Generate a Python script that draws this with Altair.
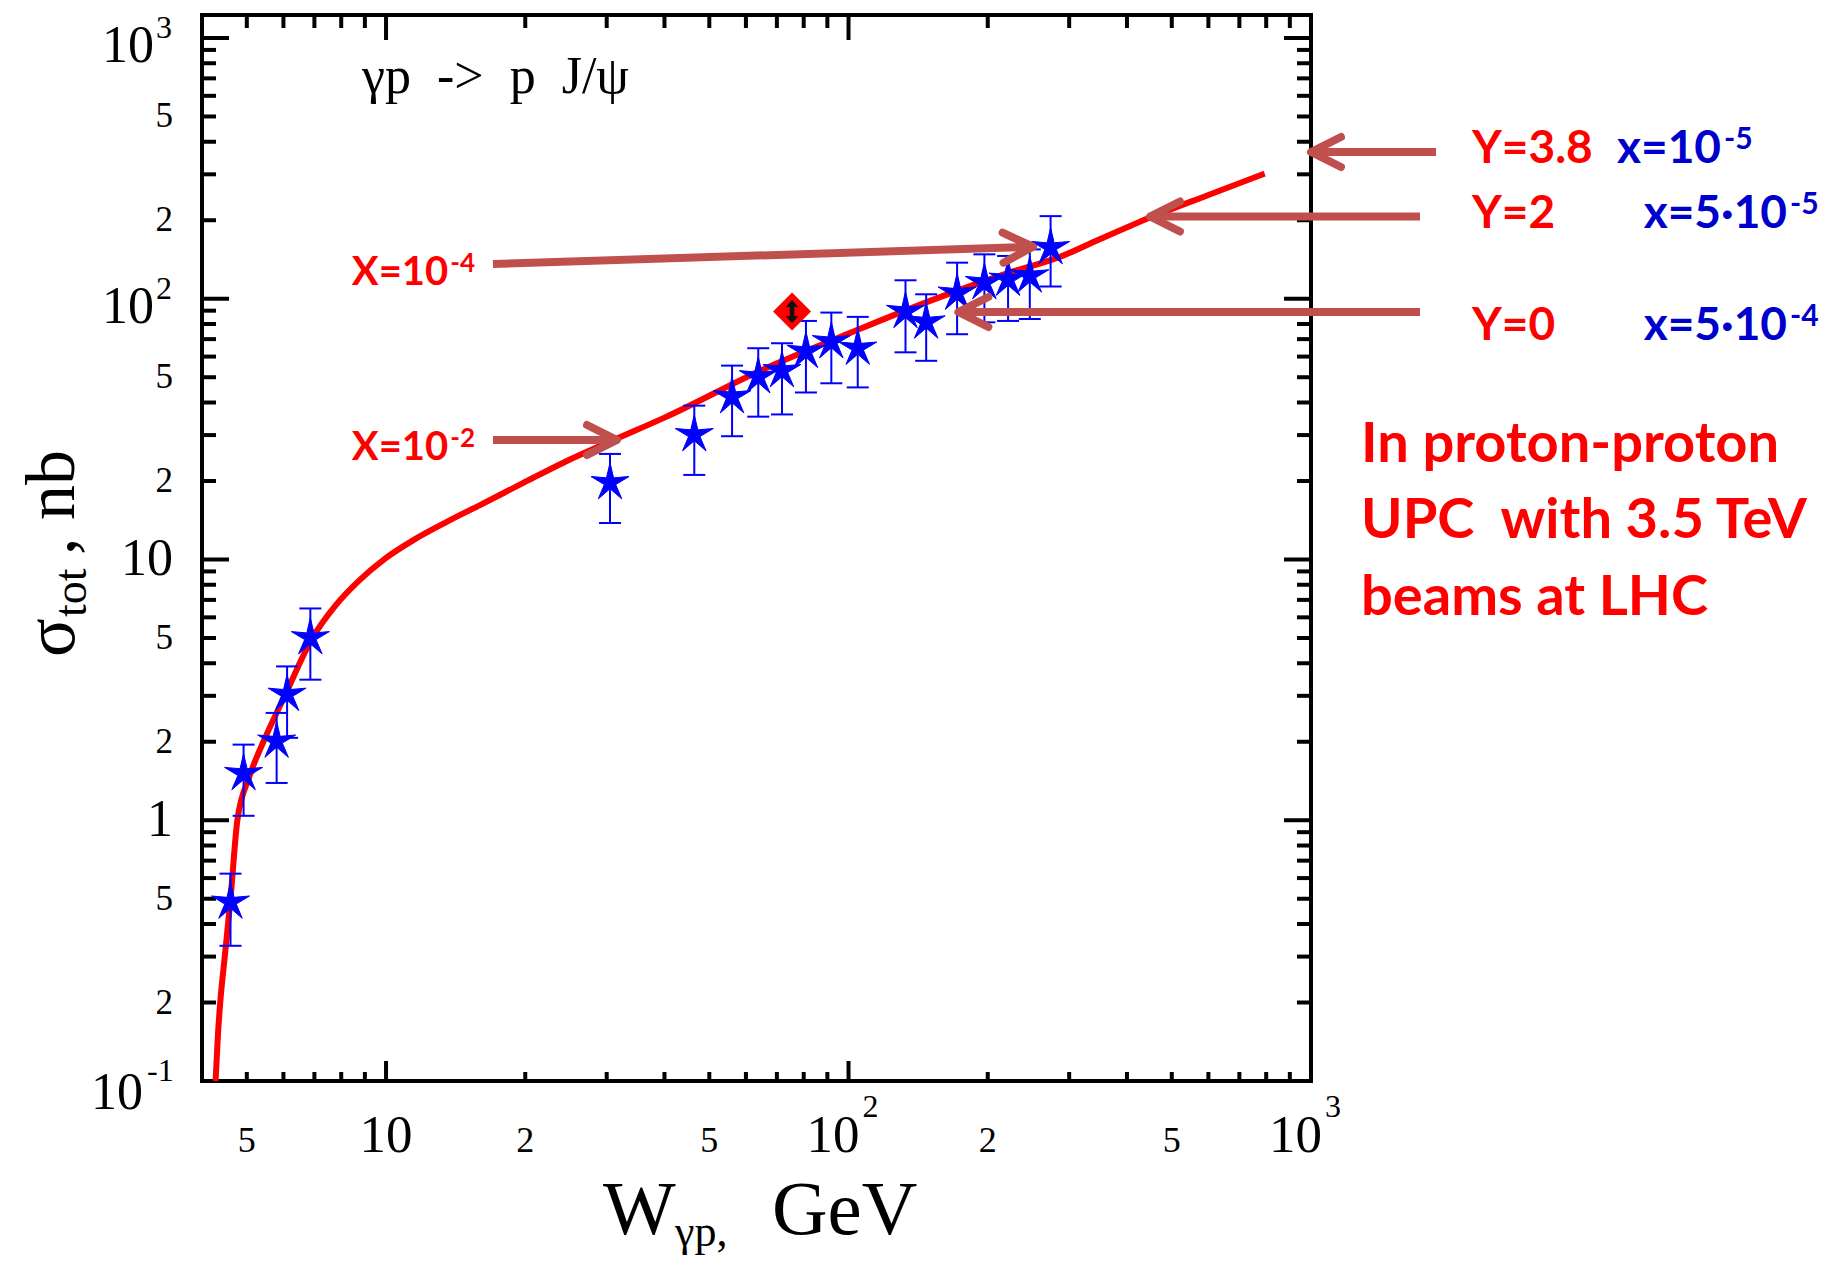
import altair as alt
import pandas as pd

# ---------------- data ----------------
# measured points (W_gamma_p in GeV, sigma in nb) with error bars
W_PTS = [4.61, 4.92, 5.80, 6.11, 6.86, 30.5, 46.4, 56.0, 63.8, 71.8, 80.9, 91.8,
         104.7, 132.8, 147.2, 171.7, 196.7, 221.3, 246.6, 273.5]
SIG_PTS = [0.485, 1.51, 2.01, 3.04, 5.01, 19.7, 30.1, 42.1, 50.2, 53.0, 62.8, 68.4,
           64.6, 89.3, 81.4, 105.0, 115.3, 118.8, 122.3, 157.0]
SIG_LO = [0.33, 1.04, 1.39, 2.07, 3.46, 13.8, 21.1, 29.7, 35.3, 36.0, 43.7, 47.4,
          45.7, 62.3, 57.8, 73.1, 81.2, 82.2, 83.6, 111.4]
SIG_HI = [0.624, 1.95, 2.58, 3.89, 6.49, 25.4, 38.9, 55.4, 64.6, 67.5, 82.2, 88.5,
          85.2, 117.7, 104.0, 137.5, 148.0, 145.9, 154.6, 207.4]

# model curve
W_CURVE = [4.28, 4.33, 4.38, 4.48, 4.61, 4.77, 5.05, 5.43, 6.04, 6.93, 7.78, 8.73,
           9.95, 11.53, 13.59, 16.0, 19.8, 24.1, 30.8, 40.0, 66.0, 100.0, 152.0,
           220.0, 290.0, 349.0, 449.0, 600.0, 794.0]
SIG_CURVE = [0.1, 0.15, 0.2, 0.3, 0.5, 1.0, 1.45, 2.0, 3.0, 5.0, 6.67, 8.28,
             10.08, 11.95, 14.0, 16.2, 19.66, 23.46, 28.55, 35.0, 54.0, 73.5, 99.0,
             125.0, 146.0, 169.0, 205.0, 250.0, 302.0]

# extra (diamond) point
W_DIAMOND = [75.5]
SIG_DIAMOND = [89.3]

# axis ticks
Y_MAJOR = [0.1, 1, 10, 100, 1000]
Y_MINOR = [0.2, 0.3, 0.4, 0.5, 0.6, 0.7, 0.8, 0.9, 2, 3, 4, 5, 6, 7, 8, 9,
           20, 30, 40, 50, 60, 70, 80, 90, 200, 300, 400, 500, 600, 700, 800, 900]
X_MAJOR = [10, 100]
X_MINOR = [5, 6, 7, 8, 9, 20, 30, 40, 50, 60, 70, 80, 90,
           200, 300, 400, 500, 600, 700, 800, 900]

# tick labels
Y_MINOR_LBL_V = [500, 200, 50, 20, 5, 2, 0.5, 0.2]
Y_MINOR_LBL_T = ["5", "2", "5", "2", "5", "2", "5", "2"]
Y_PLAIN_LBL_V = [10, 1]
Y_PLAIN_LBL_T = ["10", "1"]
Y_POW_LBL_V = [1000, 100]
Y_POW_LBL_SUP = ["3", "2"]
Y_NEG_LBL_V = [0.1]
Y_NEG_LBL_SUP = ["-1"]
X_MINOR_LBL_V = [5, 20, 50, 200, 500]
X_MINOR_LBL_T = ["5", "2", "5", "2", "5"]
X_PLAIN_LBL_V = [10]
X_PLAIN_LBL_T = ["10"]
X_POW_LBL_V = [100, 1000]
X_POW_LBL_SUP = ["2", "3"]

# annotation anchors (data units)
ARROW_TAIL_W = [17.03, 17.03, 1864, 1721, 1721]
ARROW_TAIL_S = [135.9, 28.73, 365.4, 206.8, 88.97]
ARROW_TIP_W = [250.6, 31.58, 1000, 448.6, 172.8]
ARROW_TIP_S = [158.3, 28.73, 365.4, 206.8, 88.97]
ARROW_ANGLE = [358.2, 0, 180, 180, 180]

XLBL_W = [13.7, 13.7]
XLBL_S = [112.9, 24.07]
XLBL_BASE = ["X=10", "X=10"]
XLBL_SUP = ["-4", "-2"]

YLBL_W = [2229, 2229, 2229]
YLBL_S = [331.6, 186.3, 69.45]
YLBL_T = ["Y=3.8", "Y=2", "Y=0"]

BX_W = [7741, 10751, 10751]
BX_S = [331.6, 186.3, 69.45]
BX_BASE = ["x=10", "x=5·10", "x=5·10"]
BX_SUP = ["-5", "-5", "-4"]

NOTE_W = [1283, 1283, 1283]
NOTE_S = [23.72, 12.09, 6.125]
NOTE_T = ["In proton-proton", "UPC\u00a0 with 3.5 TeV", "beams at LHC"]

REACTION_W = [8.873]
REACTION_S = [615.2]
REACTION_T = ["γp\u00a0 ->\u00a0 p\u00a0 J/ψ"]

# ---------------- styling ----------------
PW, PH = 1109, 1066
XS = alt.Scale(type="log", domain=[4, 1000], nice=False)
YS = alt.Scale(type="log", domain=[0.1, 1225], nice=False)
SERIF = "Liberation Serif"
SANS = "Lato"
RED = "#FF0000"
BLUE = "#0000FF"
DBLUE = "#0000CC"
ARROW = "#C0504D"

STAR = ("M0,-1L0.176,-0.243L0.951,-0.309L0.285,0.093L0.588,0.809L0,0.3"
        "L-0.588,0.809L-0.285,0.093L-0.951,-0.309L-0.176,-0.243Z")
CHEVRON = "M-1,-0.5L0,0L-1,0.5"
DOUBLE_ARROW = ("M0,-1L0.55,-0.4L0.2,-0.4L0.2,0.4L0.55,0.4L0,1L-0.55,0.4"
                "L-0.2,0.4L-0.2,-0.4L-0.55,-0.4Z")


def X(f):
    return alt.X(f"{f}:Q", scale=XS, axis=None)


def Y(f):
    return alt.Y(f"{f}:Q", scale=YS, axis=None)


def ticks(vals, side, length):
    m = alt.Chart(pd.DataFrame({"v": vals})).mark_rule(color="black", strokeWidth=4)
    if side == "left":
        return m.encode(y=Y("v"), x=alt.value(0), x2=alt.value(length))
    if side == "right":
        return m.encode(y=Y("v"), x=alt.value(PW - length), x2=alt.value(PW))
    if side == "bottom":
        return m.encode(x=X("v"), y=alt.value(PH - length), y2=alt.value(PH))
    return m.encode(x=X("v"), y=alt.value(0), y2=alt.value(length))


layers = []
# frame ticks
layers += [ticks(Y_MAJOR, "left", 27), ticks(Y_MINOR, "left", 14),
           ticks(Y_MAJOR, "right", 27), ticks(Y_MINOR, "right", 14),
           ticks(X_MAJOR, "top", 25), ticks(X_MINOR, "top", 13),
           ticks(X_MAJOR, "bottom", 20), ticks(X_MINOR, "bottom", 9)]

# y tick labels
ylab_minor = pd.DataFrame({"v": Y_MINOR_LBL_V, "t": Y_MINOR_LBL_T})
ylab_plain = pd.DataFrame({"v": Y_PLAIN_LBL_V, "t": Y_PLAIN_LBL_T})
ylab_pow = pd.DataFrame({"v": Y_POW_LBL_V, "t": ["10"] * len(Y_POW_LBL_V), "s": Y_POW_LBL_SUP})
ylab_neg = pd.DataFrame({"v": Y_NEG_LBL_V, "t": ["10"] * len(Y_NEG_LBL_V), "s": Y_NEG_LBL_SUP})
layers += [
    alt.Chart(ylab_minor).mark_text(font=SERIF, fontSize=35, align="right", baseline="middle")
    .encode(x=alt.value(-29), y=Y("v"), text="t:N"),
    alt.Chart(ylab_plain).mark_text(font=SERIF, fontSize=52, align="right", baseline="middle")
    .encode(x=alt.value(-29), y=Y("v"), text="t:N"),
    alt.Chart(ylab_pow).mark_text(font=SERIF, fontSize=52, align="right", baseline="middle", dy=8)
    .encode(x=alt.value(-48), y=Y("v"), text="t:N"),
    alt.Chart(ylab_pow).mark_text(font=SERIF, fontSize=32, align="left", baseline="middle", dy=-10)
    .encode(x=alt.value(-46), y=Y("v"), text="s:N"),
    alt.Chart(ylab_neg).mark_text(font=SERIF, fontSize=52, align="right", baseline="middle", dy=12)
    .encode(x=alt.value(-59), y=Y("v"), text="t:N"),
    alt.Chart(ylab_neg).mark_text(font=SERIF, fontSize=32, align="left", baseline="middle", dy=-10)
    .encode(x=alt.value(-55), y=Y("v"), text="s:N"),
]

# x tick labels
xlab_minor = pd.DataFrame({"v": X_MINOR_LBL_V, "t": X_MINOR_LBL_T})
xlab_plain = pd.DataFrame({"v": X_PLAIN_LBL_V, "t": X_PLAIN_LBL_T})
xlab_pow = pd.DataFrame({"v": X_POW_LBL_V, "t": ["10"] * len(X_POW_LBL_V), "s": X_POW_LBL_SUP})
layers += [
    alt.Chart(xlab_minor).mark_text(font=SERIF, fontSize=36, align="center", baseline="alphabetic")
    .encode(x=X("v"), y=alt.value(1137), text="t:N"),
    alt.Chart(xlab_plain).mark_text(font=SERIF, fontSize=53, align="center", baseline="alphabetic")
    .encode(x=X("v"), y=alt.value(1137), text="t:N"),
    alt.Chart(xlab_pow).mark_text(font=SERIF, fontSize=53, align="right", baseline="alphabetic", dx=11)
    .encode(x=X("v"), y=alt.value(1137), text="t:N"),
    alt.Chart(xlab_pow).mark_text(font=SERIF, fontSize=32, align="left", baseline="alphabetic", dx=14)
    .encode(x=X("v"), y=alt.value(1102), text="s:N"),
]

# axis titles
layers += [
    alt.Chart(pd.DataFrame({"t": ["W"]})).mark_text(font=SERIF, fontSize=77, align="left", baseline="alphabetic")
    .encode(x=alt.value(401), y=alt.value(1219), text="t:N"),
    alt.Chart(pd.DataFrame({"t": ["γp,"]})).mark_text(font=SERIF, fontSize=44, align="left", baseline="alphabetic")
    .encode(x=alt.value(473), y=alt.value(1231), text="t:N"),
    alt.Chart(pd.DataFrame({"t": ["GeV"]})).mark_text(font=SERIF, fontSize=77, align="left", baseline="alphabetic")
    .encode(x=alt.value(570), y=alt.value(1219), text="t:N"),
    alt.Chart(pd.DataFrame({"t": ["σ"]})).mark_text(font=SERIF, fontSize=72, align="left", baseline="alphabetic", angle=270)
    .encode(x=alt.value(-128), y=alt.value(642), text="t:N"),
    alt.Chart(pd.DataFrame({"t": ["tot"]})).mark_text(font=SERIF, fontSize=46, align="left", baseline="alphabetic", angle=270)
    .encode(x=alt.value(-116), y=alt.value(602), text="t:N"),
    alt.Chart(pd.DataFrame({"t": [", nb"]})).mark_text(font=SERIF, fontSize=70, align="left", baseline="alphabetic", angle=270)
    .encode(x=alt.value(-128), y=alt.value(540), text="t:N"),
]

# model curve
curve = pd.DataFrame({"W": W_CURVE, "S": SIG_CURVE})
layers.append(alt.Chart(curve).mark_line(color=RED, strokeWidth=6, interpolate="monotone")
              .encode(x=X("W"), y=Y("S")))

# data points
pts = pd.DataFrame({"W": W_PTS, "S": SIG_PTS, "lo": SIG_LO, "hi": SIG_HI})
caps = pd.DataFrame({"W": W_PTS + W_PTS, "S": SIG_LO + SIG_HI})
layers += [
    alt.Chart(pts).mark_rule(color=BLUE, strokeWidth=2).encode(x=X("W"), y=Y("lo"), y2=alt.Y2("hi")),
    alt.Chart(caps).mark_point(shape="stroke", size=484, strokeWidth=2, color=BLUE, opacity=1)
    .encode(x=X("W"), y=Y("S")),
    alt.Chart(pts).mark_point(shape=STAR, filled=True, color=BLUE, size=1600, opacity=1,
                              stroke=BLUE, strokeWidth=1).encode(x=X("W"), y=Y("S")),
]

# diamond point
dia = pd.DataFrame({"W": W_DIAMOND, "S": SIG_DIAMOND})
layers += [
    alt.Chart(dia).mark_point(shape="diamond", filled=True, color=RED, size=1444, opacity=1)
    .encode(x=X("W"), y=Y("S")),
    alt.Chart(dia).mark_point(shape=DOUBLE_ARROW, filled=True, color="#111111", size=529, opacity=1)
    .encode(x=X("W"), y=Y("S")),
]

# arrows
arr = pd.DataFrame({"tw": ARROW_TAIL_W, "ts": ARROW_TAIL_S, "hw": ARROW_TIP_W,
                    "hs": ARROW_TIP_S, "ang": ARROW_ANGLE})
layers += [
    alt.Chart(arr).mark_rule(color=ARROW, strokeWidth=8)
    .encode(x=X("tw"), y=Y("ts"), x2=alt.X2("hw"), y2=alt.Y2("hs")),
    alt.Chart(arr).mark_point(shape=CHEVRON, filled=False, color=ARROW, strokeWidth=8, size=3600,
                              opacity=1, strokeCap="round", strokeJoin="round")
    .encode(x=X("hw"), y=Y("hs"), angle=alt.Angle("ang:Q", scale=None)),
]

# annotation texts
react = pd.DataFrame({"W": REACTION_W, "S": REACTION_S, "t": REACTION_T})
xl = pd.DataFrame({"W": XLBL_W, "S": XLBL_S, "b": XLBL_BASE, "s": XLBL_SUP})
yl = pd.DataFrame({"W": YLBL_W, "S": YLBL_S, "t": YLBL_T})
bx = pd.DataFrame({"W": BX_W, "S": BX_S, "b": BX_BASE, "s": BX_SUP})
note = pd.DataFrame({"W": NOTE_W, "S": NOTE_S, "t": NOTE_T})
layers += [
    alt.Chart(react).mark_text(font=SERIF, fontSize=52, align="left", baseline="alphabetic", color="black")
    .encode(x=X("W"), y=Y("S"), text="t:N"),
    alt.Chart(xl).mark_text(font=SANS, fontWeight="bold", fontSize=40, align="right",
                            baseline="alphabetic", color=RED, dx=-1)
    .encode(x=X("W"), y=Y("S"), text="b:N"),
    alt.Chart(xl).mark_text(font=SANS, fontWeight="bold", fontSize=26, align="left",
                            baseline="alphabetic", color=RED, dx=1, dy=-13)
    .encode(x=X("W"), y=Y("S"), text="s:N"),
    alt.Chart(yl).mark_text(font=SANS, fontWeight="bold", fontSize=46, align="left",
                            baseline="alphabetic", color=RED)
    .encode(x=X("W"), y=Y("S"), text="t:N"),
    alt.Chart(bx).mark_text(font=SANS, fontWeight="bold", fontSize=46, align="right",
                            baseline="alphabetic", color=DBLUE, dx=-1)
    .encode(x=X("W"), y=Y("S"), text="b:N"),
    alt.Chart(bx).mark_text(font=SANS, fontWeight="bold", fontSize=30, align="left",
                            baseline="alphabetic", color=DBLUE, dx=2, dy=-14)
    .encode(x=X("W"), y=Y("S"), text="s:N"),
    alt.Chart(note).mark_text(font=SANS, fontWeight="bold", fontSize=56, align="left",
                              baseline="alphabetic", color=RED)
    .encode(x=X("W"), y=Y("S"), text="t:N"),
]

chart = (
    alt.layer(*layers)
    .properties(width=PW, height=PH,
                autosize=alt.AutoSizeParams(type="none"),
                padding={"left": 194, "top": 7, "right": 520, "bottom": 180})
    .configure_view(stroke="black", strokeWidth=4)
)

chart.save("out.html", embed_options={"renderer": "svg", "actions": False})
